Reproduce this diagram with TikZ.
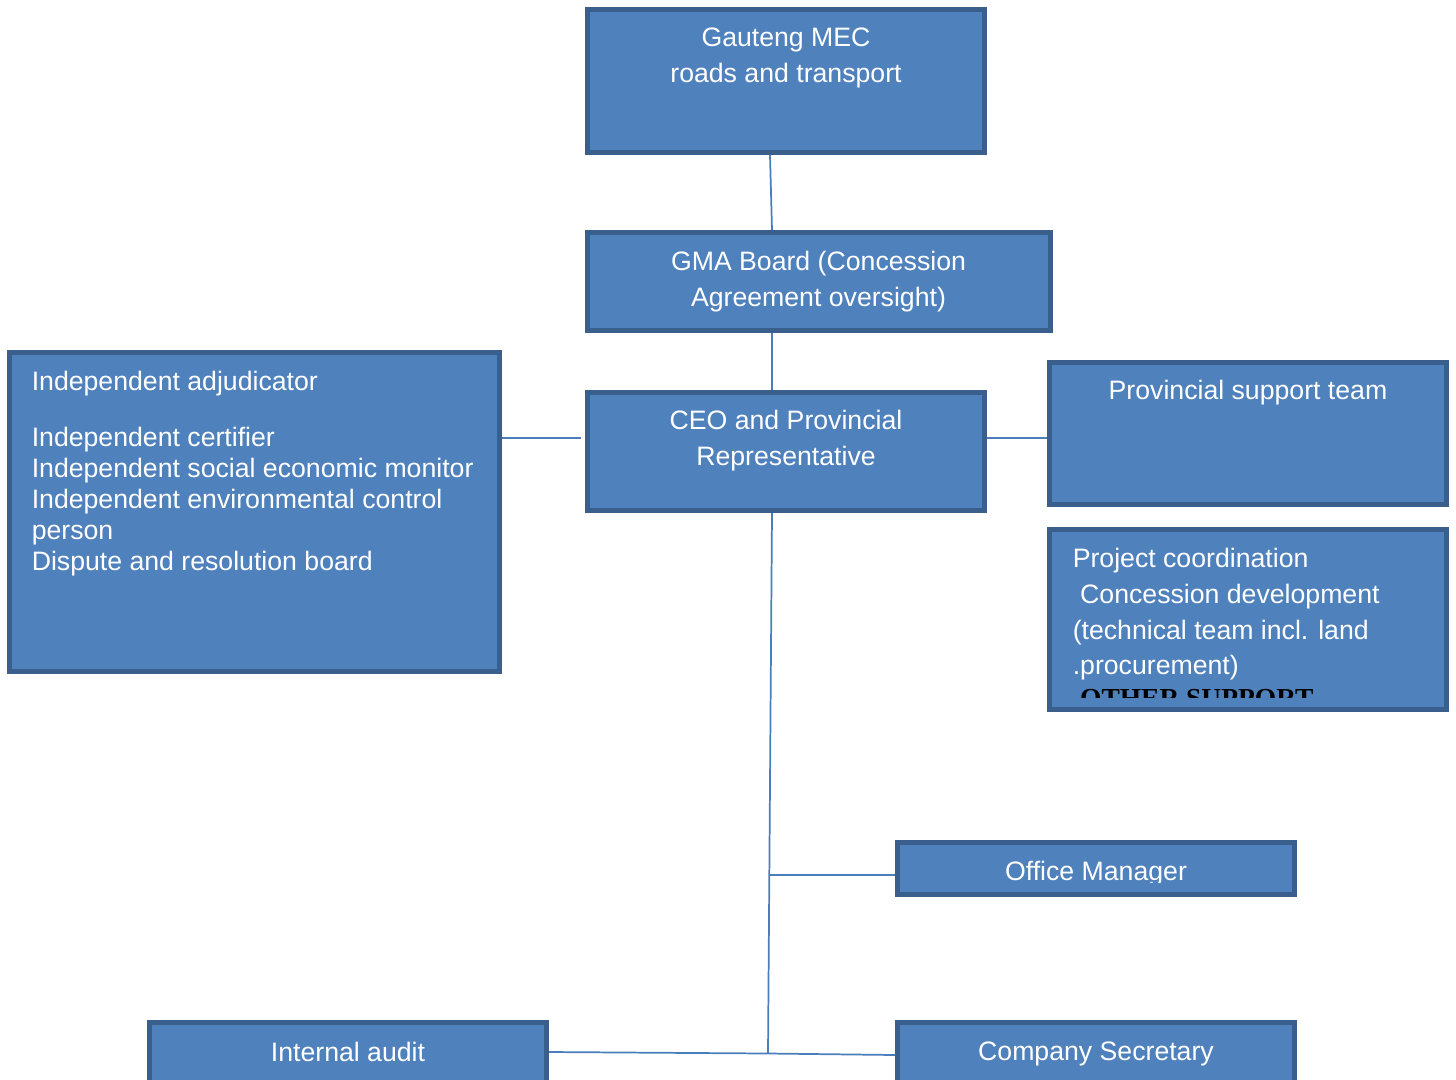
\documentclass[tikz,border=0pt]{standalone}
\usepackage{fontspec}
\setmainfont{Liberation Sans}
\newfontfamily\timesfont{Liberation Serif}
\definecolor{boxblue}{HTML}{4F81BD}
\definecolor{boxedge}{HTML}{3A5F8D}
\definecolor{linkblue}{HTML}{4A7EBB}
\begin{document}
\begin{tikzpicture}[x=0.75pt,y=-0.75pt,
  box/.style 2 args={draw=boxedge,fill=boxblue,line width=3.75pt,inner sep=0,minimum width=#1*0.75pt,minimum height=#2*0.75pt},
  txt/.style={text=white,inner sep=0,font=\fontsize{20}{27}\selectfont,align=center,anchor=north},
  link/.style={draw=linkblue,line width=1.3pt}]
\useasboundingbox (0,0) rectangle (1456,1079);
% boxes
\node(mec)[box={397}{143}] at (786,81) {};
\node(mectxt)[txt] at (786,28) {Gauteng MEC\\roads and transport};
\node(gma)[box={463}{98}] at (819,281.5) {};
\node(gmatxt)[txt] at (818.5,251) {GMA Board (Concession\\Agreement oversight)};
\node(ceo)[box={397}{118}] at (786,451.5) {};
\node(ceotxt)[txt] at (786,410) {CEO and Provincial\\Representative};
\node(indep)[box={490}{319}] at (254.5,512) {};
\node(indeptxt)[txt,align=left,anchor=north west,font=\fontsize{20}{23.25}\selectfont] at (31.5,371)
  {Independent adjudicator\\[18.75pt]Independent certifier\\Independent social economic monitor\\Independent environmental control\\person\\Dispute and resolution board};
\node(prov)[box={397}{142}] at (1248,433.5) {};
\node(provtxt)[txt] at (1248,380) {Provincial support team};
\node(proj)[box={397}{180}] at (1248,619.5) {};
\node(projtxt)[txt,align=left,anchor=north west,font=\fontsize{20}{26.8}\selectfont] at (1072.5,548)
  {Project coordination\\\ Concession development\\(technical team incl. land\\.procurement)};
\begin{scope}
\clip (1052,532) rectangle (1444,697);
\node(othertxt)[inner sep=0,anchor=north west,font=\timesfont\bfseries\fontsize{20.6}{24}\selectfont] at (1073,689.5) {.OTHER SUPPORT};
\end{scope}
\node(office)[box={397}{52}] at (1096,868.5) {};
\begin{scope}
\clip (900,845) rectangle (1292,882);
\node(officetxt)[txt] at (1096,861) {Office Manager};
\end{scope}
\node(audit)[box={397}{77}] at (348,1061) {};
\node(audittxt)[txt] at (348,1041.5) {Internal audit};
\node(secr)[box={397}{77}] at (1096,1061) {};
\node(secrtxt)[txt] at (1096,1041.5) {Company Secretary};
% connectors
\coordinate(hub) at (768,1053.5);
\coordinate(tap) at (769.3,875);
\draw[link] ([shift={(-16,0)}]mec.south) -- ([shift={(-47,0)}]gma.north);
\draw[link] ([shift={(-47,0)}]gma.south) -- ([shift={(-14,0)}]ceo.north);
\draw[link] ([shift={(0,-74)}]indep.east) -- ([shift={(-4,-13.5)}]ceo.west);
\draw[link] ([shift={(0,-13.5)}]ceo.east) -- ([shift={(0,4.5)}]prov.west);
\draw[link] ([shift={(-14,0)}]ceo.south) -- (hub);
\draw[link] (tap) -- ([shift={(0,6.5)}]office.west);
\draw[link] ([shift={(0,-9)}]audit.east) -- (hub) -- ([shift={(0,-6)}]secr.west);
\end{tikzpicture}
\end{document}
